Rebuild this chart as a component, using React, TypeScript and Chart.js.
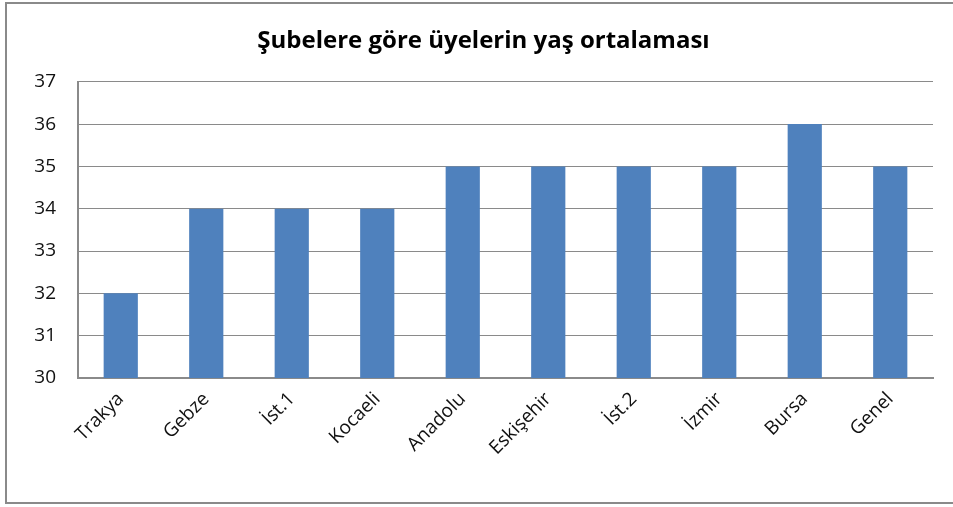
import React, { useEffect, useRef } from "react";
import { Chart, registerables } from "chart.js";

Chart.register(...registerables);

const TITLE = "Şubelere göre üyelerin yaş ortalaması";
const categories = ["Trakya", "Gebze", "İst.1", "Kocaeli", "Anadolu", "Eskişehir", "İst.2", "İzmir", "Bursa", "Genel"];
const ageAverages = [32, 34, 34, 34, 35, 35, 35, 35, 36, 35];
const Y_MIN = 30;
const Y_MAX = 37;

const frame = {
  id: "frame",
  beforeDraw(chart: any) {
    const ctx = chart.ctx;
    ctx.save();
    ctx.strokeStyle = "#8a8a8a";
    ctx.lineWidth = 2;
    ctx.beginPath();
    ctx.moveTo(960, 3);
    ctx.lineTo(6, 3);
    ctx.lineTo(6, 503);
    ctx.lineTo(960, 503);
    ctx.stroke();
    ctx.restore();
  },
};

export default function App() {
  const ref = useRef<HTMLCanvasElement>(null);
  useEffect(() => {
    document.body.style.margin = "0";
    const chart = new Chart(ref.current!, {
      type: "bar",
      data: {
        labels: categories,
        datasets: [
          {
            data: ageAverages,
            backgroundColor: "#4F81BD",
            borderWidth: 0,
            barPercentage: 0.4,
            categoryPercentage: 1,
          },
        ],
      },
      options: {
        responsive: false,
        animation: false,
        layout: { padding: { left: 34, right: 20, top: 0, bottom: 0 } },
        plugins: {
          legend: { display: false },
          tooltip: { enabled: false },
          title: {
            display: true,
            text: TITLE,
            color: "#000",
            font: { family: "Open Sans", size: 24, weight: "bold" },
            padding: { top: 27, bottom: 26 },
          },
        },
        scales: {
          x: {
            grid: { display: false, drawTicks: false },
            border: { display: true, color: "#8a8a8a", width: 2 },
            ticks: {
              color: "#111",
              font: { family: "Open Sans", size: 19 },
              minRotation: 45,
              maxRotation: 45,
              padding: 10,
            },
            afterFit(scale: any) {
              scale.height = 129;
            },
          },
          y: {
            min: Y_MIN,
            max: Y_MAX,
            grid: { color: "#8a8a8a", lineWidth: 1, drawTicks: false },
            border: { display: true, color: "#8a8a8a", width: 2 },
            ticks: {
              stepSize: 1,
              color: "#111",
              font: { family: "Open Sans", size: 19 },
              padding: 22,
            },
            afterFit(scale: any) {
              scale.width = 44;
            },
          },
        },
      },
      plugins: [frame],
    });
    return () => chart.destroy();
  }, []);
  return (
    <div style={{ position: "absolute", left: 0, top: 0, width: 953, height: 507 }}>
      <canvas ref={ref} width={953} height={507} />
    </div>
  );
}
